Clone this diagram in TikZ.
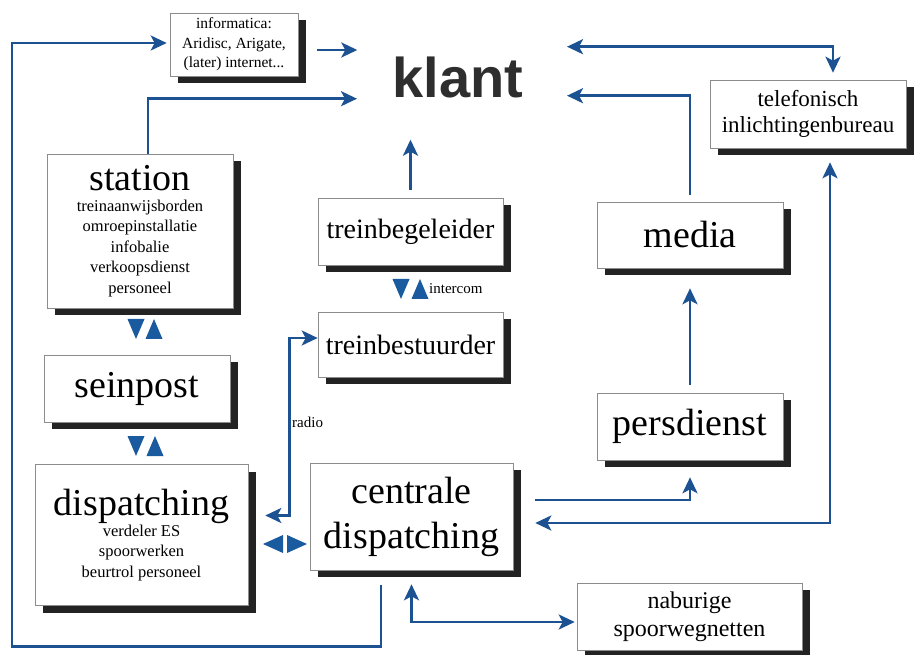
\documentclass[tikz,border=0pt]{standalone}
\usepackage{fontspec}
\setmainfont{Liberation Serif}
\newfontfamily\klantfont{Liberation Sans}
\usetikzlibrary{arrows.meta,shadows,calc}
\definecolor{lineblue}{HTML}{1C5192}
\definecolor{triblue}{HTML}{1A5A9E}
\definecolor{shadowc}{HTML}{232323}
\newcommand\TriDown[1]{\fill[triblue] (#1) ++(-8.5,-10) -- ++(17,0) -- ++(-8.5,20) -- cycle;}
\newcommand\TriUp[1]{\fill[triblue] (#1) ++(-8.5,10) -- ++(17,0) -- ++(-8.5,-20) -- cycle;}
\newcommand\TriLeft[1]{\fill[triblue] (#1) ++(10,-9) -- ++(0,18) -- ++(-20,-9) -- cycle;}
\newcommand\TriRight[1]{\fill[triblue] (#1) ++(-10,-9) -- ++(0,18) -- ++(20,-9) -- cycle;}
\begin{document}
\begin{tikzpicture}[x=1pt,y=-1pt,
  box/.style={draw=black!45, line width=0.6pt, fill=white, inner sep=0pt, align=center,
    general shadow={shadow xshift=8pt, shadow yshift=-7pt, fill=shadowc}},
  big/.style={font=\fontsize{38}{40}\selectfont},
  mid/.style={font=\fontsize{28}{30}\selectfont},
  arr/.style={draw=lineblue, line width=2.7pt, -{Stealth[length=16pt,width=15pt,inset=4pt]}},
  arrtwo/.style={draw=lineblue, line width=2.7pt, {Stealth[length=16pt,width=15pt,inset=4pt]}-{Stealth[length=16pt,width=15pt,inset=4pt]}},
  small/.style={font=\fontsize{15}{17}\selectfont}
]
\useasboundingbox (0,0) rectangle (914,655);
\fill[white] (0,0) rectangle (914,655);

% nodes
\node[box, minimum width=128pt, minimum height=63pt, font=\fontsize{15.5}{19.5}\selectfont] (info) at (234,44.5) {informatica:\\Aridisc, Arigate,\\(later) internet...};
\node[font=\klantfont\bfseries\fontsize{56}{56}\selectfont, text=black!82] (klant) at (458,77) {klant};
\node[box, minimum width=196pt, minimum height=68pt, font=\fontsize{23}{26}\selectfont] (telefonisch) at (808,114) {telefonisch\\inlichtingenbureau};
\node[box, minimum width=186pt, minimum height=154pt, font=\fontsize{16.5}{20.5}\selectfont] (station) at (140,231) {{\fontsize{38}{40}\selectfont station}\\treinaanwijsborden\\omroepinstallatie\\infobalie\\verkoopsdienst\\personeel};
\node[box, mid, minimum width=185pt, minimum height=67pt] (treinbegeleider) at (410.5,231.5) {treinbegeleider};
\node[box, mid, minimum width=185pt, minimum height=65pt] (treinbestuurder) at (410.5,344.5) {treinbestuurder};
\node[box, big, minimum width=186pt, minimum height=67pt] (seinpost) at (137,388.5) {seinpost};
\node[box, minimum width=213pt, minimum height=141pt, font=\fontsize{16.5}{20.5}\selectfont] (dispatching) at (141.5,535) {{\fontsize{38}{40}\selectfont dispatching}\\verdeler ES\\spoorwerken\\beurtrol personeel};
\node[box, font=\fontsize{38}{45}\selectfont, minimum width=203pt, minimum height=107pt] (centrale) at (411.5,516.5) {centrale\\dispatching};
\node[box, big, minimum width=186pt, minimum height=66pt] (media) at (690,235) {media};
\node[box, big, minimum width=186pt, minimum height=67pt] (persdienst) at (690,426.5) {persdienst};
\node[box, minimum width=225pt, minimum height=67pt, font=\fontsize{24}{28}\selectfont] (naburige) at (689.5,616.5) {naburige\\spoorwegnetten};

% labels
\node[small, anchor=west, inner sep=0pt] (intercomlbl) at (429,289) {intercom};
\node[small, anchor=west, inner sep=0pt] (radiolbl) at (292,422) {radio};

% triangles
\TriDown{136,329}\TriUp{154,329}
\TriDown{136,446}\TriUp{155,446}
\TriDown{401,289}\TriUp{420,289}
\TriLeft{273,544}\TriRight{297,544}

% connectors
\draw[arr] ([shift={(19,5.5)}]info.east) -- ++(40,0);
\draw[arr] ([xshift=8pt]station.north) -- ++(0,-55) -- ++(209,0);
\draw[arr] ([shift={(-30.5,15)}]centrale.south) -- ++(0,61) -| (12,43) -- ([shift={(-3,-1.5)}]info.west);
\draw[arr] ([yshift=8pt]treinbegeleider.north) -- ++(0,-50);
\draw[arrtwo] ([shift={(17,-19.5)}]dispatching.east) -| ([shift={(-28,-6.5)}]treinbestuurder.west) -- ([shift={(0,-6.5)}]treinbestuurder.west);
\draw[arr] ([shift={(22,-16.5)}]centrale.east) -| ([yshift=-17pt]persdienst.south);
\draw[arrtwo] ([shift={(22,6.5)}]centrale.east) -| ([shift={(22,14)}]telefonisch.south);
\draw[arr] ([yshift=8pt]persdienst.north) -- ([yshift=-20pt]media.south);
\draw[arr] ([yshift=7pt]media.north) -- ++(0,-99) -- ++(-123,0);
\draw[arrtwo] ([shift={(25,-7)}]telefonisch.north) |- ++(-266,-26);
\draw[arrtwo] ([yshift=-14pt]centrale.south) |- ([shift={(-2,5.5)}]naburige.west);
\end{tikzpicture}
\end{document}
